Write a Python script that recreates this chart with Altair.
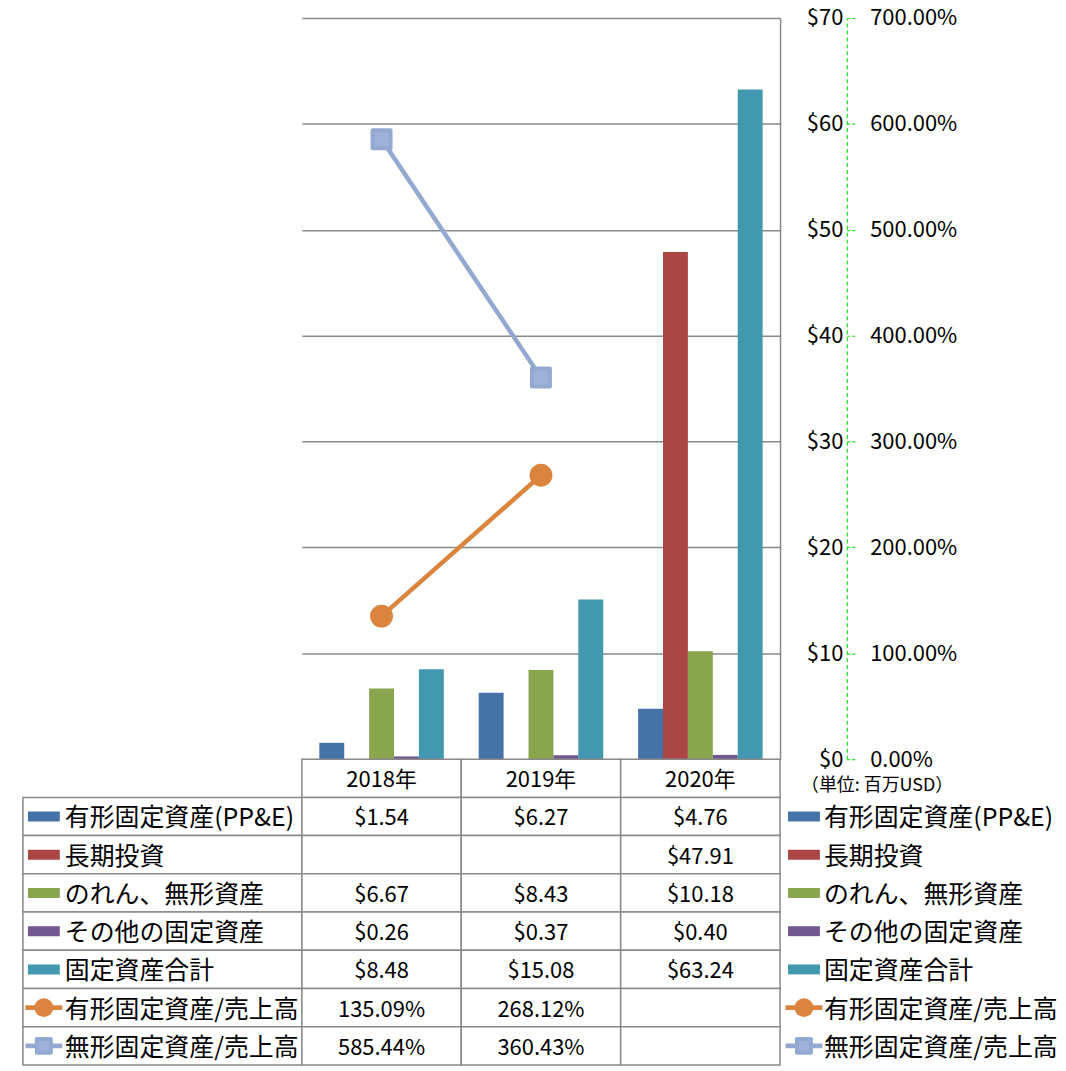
import altair as alt
import pandas as pd

# ---------------- data ----------------
years = ["2018年", "2019年", "2020年"]
bar_series = ["有形固定資産(PP&E)", "長期投資", "のれん、無形資産", "その他の固定資産", "固定資産合計"]
line_series = ["有形固定資産/売上高", "無形固定資産/売上高"]

ppe = [1.54, 6.27, 4.76]
lt_invest = [None, None, 47.91]
goodwill = [6.67, 8.43, 10.18]
other_fixed = [0.26, 0.37, 0.40]
total_fixed = [8.48, 15.08, 63.24]
ppe_ratio = [135.09, 268.12, None]
intangible_ratio = [585.44, 360.43, None]

usd_ticks = [0, 10, 20, 30, 40, 50, 60, 70]
pct_ticks = [0, 100, 200, 300, 400, 500, 600, 700]
unit_text = "（単位: 百万USD）"

# ---------------- styles ----------------
bar_colors = ["#4572A7", "#AA4643", "#89A54E", "#71588F", "#4198AF"]
line_colors = ["#DB843D", "#93A9CF"]
square_fill = "#9DB2D8"
FONT = "Noto Sans CJK JP"
GRID = "#898989"
W, H = 480, 744
TH = 307

bar_values = [ppe, lt_invest, goodwill, other_fixed, total_fixed]
line_values = [ppe_ratio, intangible_ratio]

row_keys = ["_hdr"] + bar_series + line_series
row_colors = ["#ffffff"] + bar_colors + line_colors
colenc_scale = alt.Scale(domain=row_keys, range=row_colors)

bar_rows = []
for s, vals in zip(bar_series, bar_values):
    for y, v in zip(years, vals):
        if v is not None:
            bar_rows.append({"year": y, "series": s, "value": v})
bar_df = pd.DataFrame(bar_rows)

xenc = alt.X("year:N", scale=alt.Scale(domain=years, paddingInner=0, paddingOuter=0), axis=None)

usd_axis = alt.Axis(orient="right", values=usd_ticks, labelExpr="'$' + datum.value",
                    grid=True, gridColor=GRID, gridWidth=1.5, domain=True, domainColor=GRID,
                    domainWidth=1.5, ticks=False, labelPadding=63, labelAlign="right",
                    labelFontSize=22, labelFont=FONT, labelColor="#000", title=None)
pct_axis = alt.Axis(orient="right", offset=67, values=pct_ticks,
                    labelExpr="format(datum.value, '.2f') + '%'",
                    grid=False, domain=True, domainColor="#22DD22", domainDash=[4, 3],
                    domainWidth=1.2, ticks=True, tickColor="#22DD22", tickDash=[3, 2],
                    tickSize=8, tickWidth=1.2, labelPadding=15, labelAlign="left",
                    labelFontSize=22, labelFont=FONT, labelColor="#000", title=None)

bars = alt.Chart(bar_df).mark_bar().encode(
    x=xenc,
    xOffset=alt.XOffset("series:N", scale=alt.Scale(domain=bar_series, paddingInner=0, paddingOuter=0.7)),
    y=alt.Y("value:Q", scale=alt.Scale(domain=[0, 70], nice=False), axis=usd_axis),
    color=alt.Color("series:N", scale=colenc_scale, legend=None),
)

pct_scale = alt.Scale(domain=[0, 700], nice=False)
line_layers = []
for i, (name, vals) in enumerate(zip(line_series, line_values)):
    df = pd.DataFrame([{"year": y, "value": v} for y, v in zip(years, vals) if v is not None])
    base = alt.Chart(df).encode(x=xenc, y=alt.Y("value:Q", scale=pct_scale, axis=pct_axis))
    ln = base.mark_line(color=line_colors[i], strokeWidth=4.5)
    if i == 0:
        pt = base.mark_point(shape="circle", filled=True, size=529, color=line_colors[i], opacity=1)
    else:
        pt = base.mark_point(shape="square", filled=True, size=324, fill=square_fill,
                             stroke=line_colors[i], strokeWidth=4, strokeJoin="round", opacity=1)
    line_layers += [ln, pt]

main = alt.layer(bars, alt.layer(*line_layers)).resolve_scale(y="independent").properties(width=W, height=H)


def blank(width, height):
    return alt.Chart(pd.DataFrame({"a": [0]})).mark_point(opacity=0).encode(
        x=alt.value(0), y=alt.value(0)).properties(width=width, height=height)


# ---------------- table ----------------
yenc = alt.Y("row:N", scale=alt.Scale(domain=row_keys, paddingInner=0, paddingOuter=0), axis=None)
colenc = alt.Color("row:N", scale=colenc_scale, legend=None)

series_df = pd.DataFrame({"row": bar_series + line_series})
bar_sw_df = pd.DataFrame({"row": bar_series})
line_sw_df = pd.DataFrame({"row": line_series})

BAR_PATH = "M-1,-0.3125L1,-0.3125L1,0.3125L-1,0.3125Z"
LINE_PATH = "M-1,-0.13L1,-0.13L1,0.13L-1,0.13Z"


def label_chart(width, sw_x, text_x, borders, extra=None):
    layers = []
    if borders:
        layers.append(alt.Chart(series_df).mark_rect(fill="white", stroke=GRID, strokeWidth=1.5).encode(
            x=alt.value(12), x2=alt.value(width), y=yenc))
    layers.append(alt.Chart(bar_sw_df).mark_point(shape=BAR_PATH, size=1024, filled=True, opacity=1).encode(
        x=alt.value(sw_x), y=yenc, color=colenc))
    layers.append(alt.Chart(line_sw_df).mark_point(shape=LINE_PATH, size=1369, filled=True, opacity=1).encode(
        x=alt.value(sw_x), y=yenc, color=colenc))
    layers.append(alt.Chart(pd.DataFrame({"row": [line_series[0]]})).mark_point(
        shape="circle", size=361, filled=True, opacity=1, color=line_colors[0]).encode(
        x=alt.value(sw_x), y=yenc))
    layers.append(alt.Chart(pd.DataFrame({"row": [line_series[1]]})).mark_point(
        shape="square", size=196, filled=True, opacity=1, fill=square_fill, stroke=line_colors[1],
        strokeWidth=4, strokeJoin="round").encode(x=alt.value(sw_x), y=yenc))
    layers.append(alt.Chart(series_df).mark_text(align="left", baseline="middle", fontSize=25, dy=2,
                                                 font=FONT, color="#000").encode(
        x=alt.value(text_x), y=yenc, text="row:N"))
    if extra is not None:
        layers.append(extra)
    return alt.layer(*layers).properties(width=width, height=TH)


unit = alt.Chart(pd.DataFrame({"row": ["_hdr"], "t": [unit_text]})).mark_text(
    align="left", baseline="middle", fontSize=18, font=FONT, color="#000", dy=8
).encode(x=alt.value(21), y=yenc, text="t:N")

labels = label_chart(292, 33, 54, True)
legend = label_chart(270, 24, 44, False, unit)


def fmt_usd(v):
    return "" if v is None else f"${v:.2f}"


def fmt_pct(v):
    return "" if v is None else f"{v:.2f}%"


cells = []
for j, y in enumerate(years):
    cells.append({"row": "_hdr", "year": y, "text": y})
    for s, vals in zip(bar_series, bar_values):
        cells.append({"row": s, "year": y, "text": fmt_usd(vals[j])})
    for s, vals in zip(line_series, line_values):
        cells.append({"row": s, "year": y, "text": fmt_pct(vals[j])})
cell_df = pd.DataFrame(cells)

cell_x = alt.X("year:N", scale=alt.Scale(domain=years, paddingInner=0, paddingOuter=0), axis=None)
values = alt.layer(
    alt.Chart(cell_df).mark_rect(fill="white", stroke=GRID, strokeWidth=1.5).encode(x=cell_x, y=yenc),
    alt.Chart(cell_df).mark_text(align="center", baseline="middle", fontSize=22, dy=2, font=FONT,
                                 color="#000").encode(x=cell_x, y=yenc, text="text:N"),
).properties(width=W, height=TH)

chart = alt.concat(
    blank(292, H), main, blank(270, H),
    labels, values, legend,
    columns=3, spacing=0, bounds="flush", align="each",
).properties(
    padding={"left": 0, "top": -3, "right": 0, "bottom": 0}
).configure(font=FONT).configure_view(stroke="transparent", strokeWidth=0)

chart.save("out.html", embed_options={"renderer": "svg", "actions": False})
